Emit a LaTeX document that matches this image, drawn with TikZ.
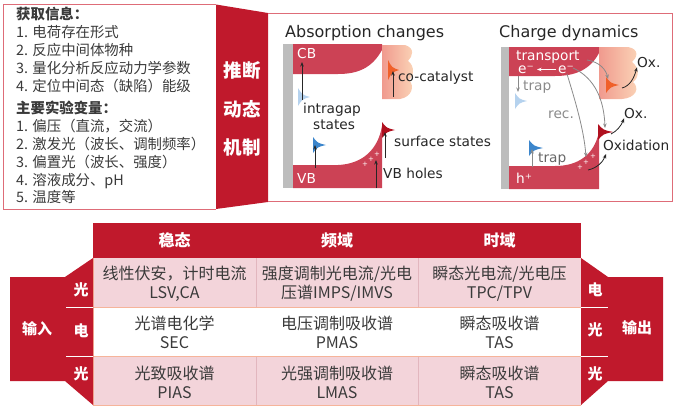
\documentclass[tikz,border=0pt]{standalone}
\usepackage{fontspec}
\setmainfont{Noto Sans CJK SC}
\newfontfamily\dv{DejaVu Sans}
\usetikzlibrary{arrows.meta}
\definecolor{tred}{HTML}{C0192C}
\definecolor{bandred}{HTML}{CC4255}
\definecolor{pinkcell}{HTML}{F3D4DA}
\definecolor{peach}{HTML}{F6B49A}
\definecolor{divpink}{HTML}{E2B6BE}
\definecolor{boxborder}{HTML}{DE6C78}
\definecolor{txtgray}{HTML}{3A3A3A}
\definecolor{barg}{HTML}{BDBDBD}
\definecolor{cocl}{HTML}{F09A8E}
\definecolor{cocr}{HTML}{FBD6B8}
\definecolor{flaglb}{HTML}{B5D2EE}
\definecolor{flagb}{HTML}{3C86CC}
\definecolor{flago}{HTML}{F0602A}
\definecolor{flagr}{HTML}{B0101F}
\definecolor{lgray}{HTML}{8A8A8A}
\newcommand\myflag[5]{\fill[#1] (#2,{#3-#4}) .. controls ({#2+0.35*#5},{#3-0.25*#4}) .. ({#2+#5},#3) .. controls ({#2+0.35*#5},{#3+0.25*#4}) .. (#2,{#3+#4}) -- cycle;}
\tikzset{
  lt/.style={anchor=base west, inner sep=0pt, text=txtgray, font=\fontsize{14.4}{16}\selectfont},
  ltb/.style={lt, font=\fontsize{14.4}{16}\selectfont\bfseries},
  bandtxt/.style={inner sep=0pt, text=white, font=\fontsize{18.5}{20}\selectfont\bfseries},
  hd/.style={anchor=base, inner sep=0pt, text=white, font=\fontsize{16}{18}\selectfont\bfseries},
  cell/.style={anchor=base, inner sep=0pt, text=txtgray, font=\fontsize{16}{18}\selectfont},
  sidelab/.style={inner sep=0pt, text=white, font=\fontsize{15}{17}\selectfont\bfseries},
  ttl/.style={anchor=base west, inner sep=0pt, text=black!85, font=\dv\fontsize{16}{18}\selectfont},
  lab/.style={anchor=base west, inner sep=0pt, text=black!85, font=\dv\fontsize{13.7}{15}\selectfont},
  wlab/.style={lab, text=white},
  glab/.style={lab, text=lgray},
  plus/.style={inner sep=0pt, text=white!90!pink, font=\dv\fontsize{7}{8}\selectfont},
  bk/.style={-{Stealth[length=4.5pt,width=3.5pt]}, line width=0.8pt, draw=black!85},
  gk/.style={-{Stealth[length=4.5pt,width=3.5pt]}, line width=0.8pt, draw=lgray},
}
\begin{document}
\begin{tikzpicture}[x=1pt,y=-1pt]
\useasboundingbox (0,0) rectangle (675,407);
% ---------- top left box ----------
\draw[boxborder, line width=0.9pt] (3,4.5) -- (216,4.5) (3,4.5) -- (3,209) -- (216,209);
\fill[tred] (216,4.5) -- (268,13) -- (268,202) -- (216,209) -- cycle;
\draw[boxborder, line width=0.9pt] (268,13) -- (672,13) -- (672,201) -- (268,201);
\node[ltb] (g0) at (16,19.5) {获取信息：};
\node[lt] (g1) at (16,37.6) {1. 电荷存在形式};
\node[lt] (g2) at (16,55.4) {2. 反应中间体物种};
\node[lt] (g3) at (16,73.6) {3. 量化分析反应动力学参数};
\node[lt] (g4) at (16,91.4) {4. 定位中间态（缺陷）能级};
\node[ltb] (v0) at (16,113) {主要实验变量：};
\node[lt] (v1) at (16,131.3) {1. 偏压（直流，交流）};
\node[lt] (v2) at (16,149.3) {2. 激发光（波长、调制频率）};
\node[lt] (v3) at (16,167) {3. 偏置光（波长、强度）};
\node[lt] (v4) at (16,185.3) {4. 溶液成分、pH};
\node[lt] (v5) at (16,202) {5. 温度等};
\node[bandtxt] (b1) at (242,70) {推断};
\node[bandtxt] (b2) at (242,109) {动态};
\node[bandtxt] (b3) at (242,147) {机制};
% ---------- diagram 1 : absorption changes ----------
\node[ttl] (t1) at (285,37) {Absorption changes};
\fill[barg] (283,44) rectangle (293,188);
\fill[bandred] (293,44) -- (382,44) -- (382,50) .. controls (372,68) and (358,74) .. (338,74) -- (293,74) -- cycle;
\fill[bandred] (293,188) -- (382,188) -- (382,126) .. controls (378,150) and (362,164) .. (338,165) -- (293,165) -- cycle;
\shade[left color=cocl, right color=cocr] (382,45) -- (405,45) .. controls (415,48) and (413,56) .. (408,61) .. controls (415,66) and (414,76) .. (409,80) .. controls (415,86) and (412,97) .. (400,99) -- (382,99) -- cycle;
\myflag{flaglb}{298}{97}{9}{12}
\myflag{flagb}{313}{145}{8}{13}
\myflag{flago}{388}{70}{10}{11}
\myflag{flagr}{382}{130}{8}{13}
\coordinate (a1s) at (302,100); \coordinate (a1e) at (302,62);
\coordinate (a2s) at (315,168); \coordinate (a2e) at (315,145);
\coordinate (a3s) at (393,97);  \coordinate (a3e) at (393,71);
\coordinate (a4s) at (385,158); \coordinate (a4e) at (385,132);
\coordinate (a5s) at (376,188); \coordinate (a5e) at (376,160);
\draw[bk] (a1s) -- (a1e);
\draw[bk] (a2s) -- (a2e);
\draw[bk] (a3s) -- (a3e);
\draw[bk] (a4s) -- (a4e);
\draw[bk] (a5s) -- (a5e);
\node[plus] (p1) at (365,164) {+};
\node[plus] (p2) at (371,159) {+};
\node[plus] (p3) at (377,154) {+};
\node[wlab] (cb1) at (297,58) {CB};
\node[wlab] (vb1) at (297,183) {VB};
\node[lab] (ig1) at (303,113) {intragap};
\node[lab] (ig2) at (313,129) {states};
\node[lab] (cc1) at (398,81.5) {co-catalyst};
\node[lab] (ss1) at (394,146) {surface states};
\node[lab] (vh1) at (383,178) {VB holes};
% ---------- diagram 2 : charge dynamics ----------
\node[ttl] (t2) at (499,37) {Charge dynamics};
\fill[barg] (501,47) rectangle (509,189);
\fill[bandred] (509,47) -- (599,47) -- (599,53) .. controls (590,70) and (575,76) .. (555,76) -- (509,76) -- cycle;
\fill[bandred] (509,189) -- (599,189) -- (599,132) .. controls (594,155) and (578,166) .. (555,166) -- (509,166) -- cycle;
\shade[left color=cocl, right color=cocr] (599,47) -- (628,47) .. controls (640,49) and (637,58) .. (632,62) .. controls (640,68) and (639,78) .. (633,82) .. controls (640,88) and (636,98) .. (622,99) -- (599,99) -- cycle;
\myflag{flaglb}{515}{101}{8}{12}
\myflag{flagb}{529}{148}{8}{14}
\myflag{flago}{606}{85}{8}{13}
\myflag{flagr}{598}{132}{8}{15}
\node[wlab] (tr) at (516,60) {transport};
\node[wlab] (e1) at (518,73) {e⁻};
\node[wlab] (e2) at (558,73) {e⁻};
\node[glab] (tp1) at (523,90) {trap};
\node[glab] (rec) at (548,118) {rec.};
\node[lab, text=black!60] (tp2) at (538,162) {trap};
\node[wlab] (hp) at (516,183) {h⁺};
\node[plus] (q1) at (580,167) {+};
\node[plus] (q2) at (586,162) {+};
\node[plus] (q3) at (593,156) {+};
\draw[-{Stealth[length=4.5pt,width=3.5pt]}, line width=0.9pt, white] (556,69.5) -- (537,69.5);
\draw[gk] (518,76) -- (518,92);
\draw[gk] (532,167) -- (532,149);
\draw[gk] (567,74) .. controls (575,100) and (584,130) .. (586,157);
\draw[gk] (573,68) .. controls (595,78) and (604,100) .. (605,128);
\draw[gk] (587,60) .. controls (600,62) and (606,70) .. (608,79);
\node[lab] (ox1) at (637,67) {Ox.};
\node[lab] (ox2) at (624,118) {Ox.};
\node[lab] (oxd) at (603,150) {Oxidation};
\draw[bk] (622,88) .. controls (630,86) and (634,78) .. (ox1.south west);
\draw[bk] (611,134) .. controls (617,131) and (621,126) .. (ox2.south west);
\draw[bk] (588,170) .. controls (597,168) and (603,162) .. (606,154);
% ---------- table ----------
\fill[tred] (93,223) rectangle (581,258);
\fill[pinkcell] (93,258) rectangle (581,307);
\fill[pinkcell] (93,356) rectangle (581,405);
\draw[divpink, line width=0.8pt] (256,258) -- (256,307) (418,258) -- (418,307) (256,356) -- (256,405) (418,356) -- (418,405);
\draw[peach, line width=0.9pt] (93,307) -- (581,307) (93,356) -- (581,356) (93,405) -- (581,405) (93,258) -- (93,405) (581,258) -- (581,405);
\fill[tred] (10,277) -- (65,277) -- (93,258) -- (93,405) -- (65,381) -- (10,381) -- cycle;
\fill[tred] (581,258) -- (608,277) -- (663,277) -- (663,381) -- (608,381) -- (581,405) -- cycle;
\draw[white, line width=1pt] (66,307) -- (93,307) (66,356) -- (93,356) (581,307) -- (608,307) (581,356) -- (608,356);
\node[sidelab] (in) at (37,329) {输入};
\node[sidelab] (il1) at (81,290) {光};
\node[sidelab] (il2) at (81,331) {电};
\node[sidelab] (il3) at (81,374) {光};
\node[sidelab] (out) at (637,328) {输出};
\node[sidelab] (ol1) at (595,290) {电};
\node[sidelab] (ol2) at (595,330) {光};
\node[sidelab] (ol3) at (595,374) {光};
\node[hd] (h1) at (174.5,246) {稳态};
\node[hd] (h2) at (337,246) {频域};
\node[hd] (h3) at (499.5,246) {时域};
\node[cell] (c11a) at (174.5,279) {线性伏安，计时电流};
\node[cell] (c11b) at (174.5,298) {LSV,CA};
\node[cell] (c12a) at (337,279) {强度调制光电流/光电};
\node[cell] (c12b) at (337,298) {压谱IMPS/IMVS};
\node[cell] (c13a) at (499.5,279) {瞬态光电流/光电压};
\node[cell] (c13b) at (499.5,298) {TPC/TPV};
\node[cell] (c21a) at (174.5,329) {光谱电化学};
\node[cell] (c21b) at (174.5,348) {SEC};
\node[cell] (c22a) at (337,329) {电压调制吸收谱};
\node[cell] (c22b) at (337,348) {PMAS};
\node[cell] (c23a) at (499.5,329) {瞬态吸收谱};
\node[cell] (c23b) at (499.5,348) {TAS};
\node[cell] (c31a) at (174.5,379) {光致吸收谱};
\node[cell] (c31b) at (174.5,398) {PIAS};
\node[cell] (c32a) at (337,379) {光强调制吸收谱};
\node[cell] (c32b) at (337,398) {LMAS};
\node[cell] (c33a) at (499.5,379) {瞬态吸收谱};
\node[cell] (c33b) at (499.5,398) {TAS};
\end{tikzpicture}
\end{document}
